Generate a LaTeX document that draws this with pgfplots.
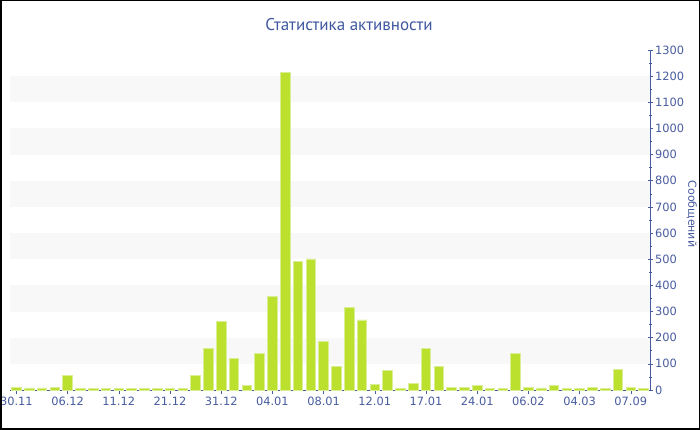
\documentclass[border=0pt]{standalone}
\usepackage{pgfplots}
\pgfplotsset{compat=1.18}
\usepackage{fontspec}
\setmainfont{DejaVu Sans}
\newfontfamily\titlefont{PT Sans}
\definecolor{barg}{RGB}{188,224,46}
\definecolor{baredge}{RGB}{218,238,150}
\definecolor{axblue}{RGB}{72,92,160}
\definecolor{titleblue}{RGB}{62,87,160}
\definecolor{band}{RGB}{248,248,248}
\pgfplotstableread{
idx val
0 11
1 8
2 8
3 9
4 57
5 6
6 6
7 6
8 6
9 6
10 6
11 6
12 6
13 6
14 54
15 159
16 261
17 122
18 16
19 140
20 358
21 1215
22 493
23 501
24 186
25 89
26 316
27 268
28 22
29 74
30 6
31 24
32 158
33 89
34 10
35 10
36 18
37 5
38 6
39 140
40 11
41 8
42 19
43 7
44 7
45 11
46 7
47 78
48 11
49 7
}\datatable
\begin{document}
\begin{tikzpicture}[x=1pt,y=1pt]
\useasboundingbox (0,0) rectangle (700,430);
\fill[white] (0,0) rectangle (700,430);
\begin{axis}[
  at={(10pt,40pt)}, anchor=south west,
  scale only axis, width=640pt, height=340pt,
  xmin=-0.5, xmax=49.5, ymin=0, ymax=1300,
  axis y line*=right, axis x line*=bottom,
  axis line style={axblue, line width=0.8pt, -},
  ybar, bar width=9.5pt,
  xtick={0,4,...,48},
  xticklabels={30.11,06.12,11.12,21.12,31.12,04.01,08.01,12.01,17.01,24.01,06.02,04.03,07.09},
  ytick={0,100,...,1300},
  minor y tick num=1,
  tick align=center,
  major tick length=5pt, minor tick length=3pt,
  x tick style={axblue, line width=0.6pt, yshift=-2pt},
  y tick style={axblue, line width=0.6pt},
  xticklabel style={font=\fontsize{11.4}{13}\selectfont, text=axblue, yshift=-1pt},
  yticklabel style={font=\fontsize{11.4}{13}\selectfont, text=axblue, anchor=west, xshift=-1pt,
    /pgf/number format/assume math mode=true, /pgf/number format/1000 sep={}},
  clip=false,
]
\fill[band] (axis cs:-0.5,100) rectangle (axis cs:49.5,200);
\fill[band] (axis cs:-0.5,300) rectangle (axis cs:49.5,400);
\fill[band] (axis cs:-0.5,500) rectangle (axis cs:49.5,600);
\fill[band] (axis cs:-0.5,700) rectangle (axis cs:49.5,800);
\fill[band] (axis cs:-0.5,900) rectangle (axis cs:49.5,1000);
\fill[band] (axis cs:-0.5,1100) rectangle (axis cs:49.5,1200);
\addplot[fill=barg, draw=baredge, line width=0.8pt] table[x=idx, y=val] {\datatable};
\end{axis}
\node[font=\titlefont\fontsize{17}{20}\selectfont, text=titleblue] at (349,405) {Статистика активности};
\node[rotate=-90, font=\fontsize{11}{13}\selectfont, text=axblue] at (692,216) {Сообщений};
\draw[black, line width=1.5pt] (0.75,0.75) rectangle (699.25,429.25);
\end{tikzpicture}
\end{document}
